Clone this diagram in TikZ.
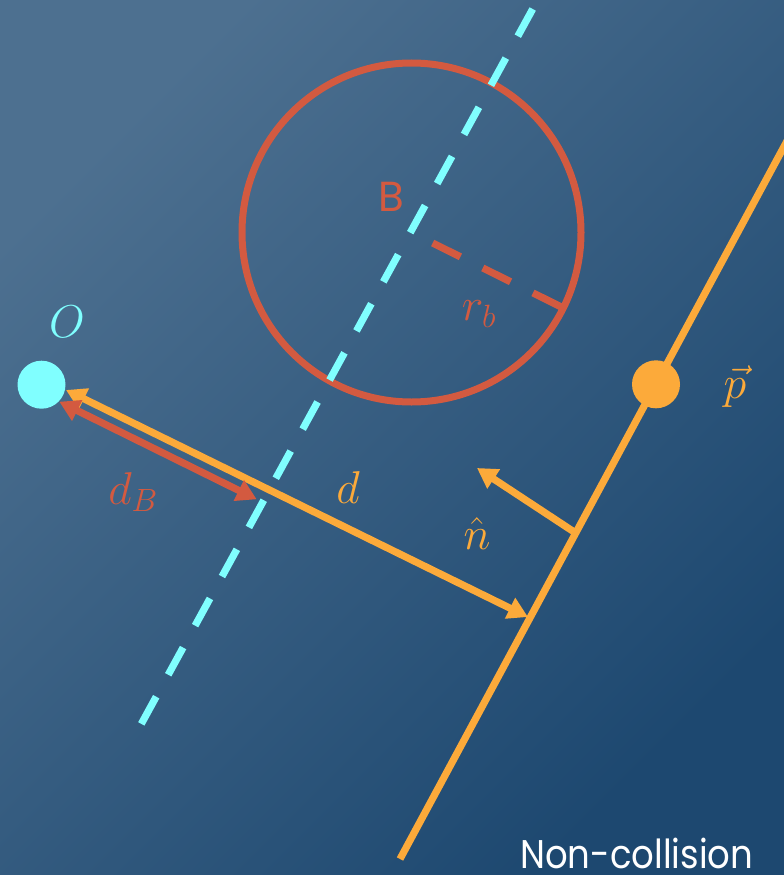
\documentclass[tikz,border=0pt]{standalone}
\usepackage{fix-cm}
\usepackage{amsmath}
\usepackage{fontspec}
\newfontfamily\geo{Poppins}
\usetikzlibrary{arrows.meta}
\definecolor{bgA}{HTML}{4D7090}
\definecolor{bgB}{HTML}{1D4870}
\definecolor{cyn}{HTML}{80FFFF}
\definecolor{org}{HTML}{FCAA3A}
\definecolor{rd}{HTML}{D35A40}
\begin{document}
\begin{tikzpicture}[x=1pt,y=-1pt,
  mlabel/.style={font=\fontsize{46}{50}\selectfont, inner sep=0pt},
  arr/.style={line width=7.2pt, {Triangle[length=20pt,width=22pt]}-{Triangle[length=20pt,width=22pt]}},
  tipln/.style={line width=7.2pt, -{Triangle[length=20pt,width=22pt]}},
  dashln/.style={line width=7.2pt, dash pattern=on 31pt off 25pt},
  dotnode/.style={circle, minimum size=48pt, inner sep=0pt}
]
\useasboundingbox (0,0) rectangle (784,875);
\shade[top color=bgA, bottom color=bgB, shading angle=45] (0,0) rectangle (784,875);

% coordinates
\coordinate (B) at (411.5,232.5);
\coordinate (R) at (560.7,306.7);
\coordinate (C1) at (532.7,9);
\coordinate (C2) at (140.7,725);
\coordinate (PA) at (400,859);
\coordinate (PB) at (793.8,128.4);
\coordinate (F1) at (528,617);
\coordinate (F2) at (575.7,533);
\coordinate (NT) at (477,468);
\coordinate (OT1) at (66,390);
\coordinate (OT2) at (59.3,401.7);
\coordinate (DB) at (256.7,499.3);

% sphere
\node[circle, draw=rd, line width=7pt, minimum size=339pt, inner sep=0pt] (sph) at (B) {};
\draw[rd, dashln] (R) -- (B);

% cyan dashed line
\draw[cyn, dashln] (C1) -- (C2);

% plane
\draw[org, line width=7.2pt] (PA) -- (PB);
\node[dotnode, fill=org] (P) at (656,384.3) {};

% origin
\node[dotnode, fill=cyn] (O) at (41.5,384.7) {};

% arrows
\draw[org, arr] (OT1) -- (F1);
\draw[rd, arr] (OT2) -- (DB);
\draw[org, tipln] (F2) -- (NT);

% labels
\node[mlabel, text=cyn] (lO) at (67,322) {$O$};
\node[mlabel, text=rd] (ldB) at (133,492) {$d_B$};
\node[mlabel, text=org] (ld) at (348,488) {$d$};
\node[mlabel, text=rd] (lrb) at (479,314) {$r_b$};
\node[mlabel, text=org] (ln) at (477,534) {$\hat{n}$};
\node[mlabel, text=org] (lp) at (735,387) {$\vec{p}$};
\node[inner sep=0pt, text=rd, font=\geo\fontsize{42}{46}\selectfont] (lB) at (391,197) {B};
\node[inner sep=0pt, anchor=base west, text=white, font=\geo\fontsize{40}{44}\selectfont] (lnc) at (520,868) {\resizebox{233pt}{\height}{Non-collision}};
\end{tikzpicture}
\end{document}
